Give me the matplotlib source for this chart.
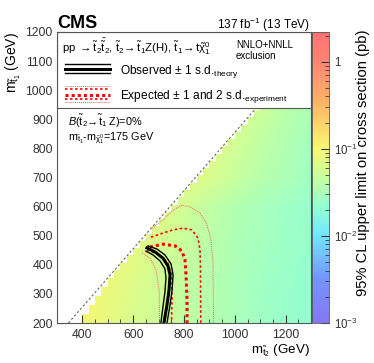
import numpy as np
import matplotlib
matplotlib.use('Agg')
import matplotlib.pyplot as plt
from matplotlib.colors import LinearSegmentedColormap, LogNorm
from matplotlib.patches import Rectangle, Polygon
from matplotlib.ticker import MultipleLocator, FixedLocator, NullFormatter

plt.rcParams['font.family'] = ['Liberation Sans', 'DejaVu Sans']
plt.rcParams['mathtext.fontset'] = 'custom'
plt.rcParams['mathtext.rm'] = 'Liberation Sans'
plt.rcParams['mathtext.it'] = 'Liberation Sans:italic'
plt.rcParams['mathtext.bf'] = 'Liberation Sans:bold'
plt.rcParams['mathtext.default'] = 'regular'

# upper limit map (pb), rows = m_t1, cols = m_t2
mt2_grid = [400, 500, 600, 700, 800, 900, 1000, 1100, 1200, 1300]
mt1_grid = [200, 300, 400, 500, 600, 700, 800, 900, 1000, 1100, 1200]
limit = [
    [0.100, 0.080, 0.063, 0.052, 0.043, 0.036, 0.031, 0.027, 0.024, 0.022],
    [0.100, 0.085, 0.066, 0.053, 0.044, 0.037, 0.031, 0.027, 0.024, 0.022],
    [0.090, 0.090, 0.072, 0.056, 0.046, 0.038, 0.032, 0.028, 0.025, 0.022],
    [0.080, 0.080, 0.080, 0.062, 0.049, 0.040, 0.033, 0.029, 0.025, 0.023],
    [0.080, 0.080, 0.080, 0.070, 0.055, 0.043, 0.035, 0.030, 0.026, 0.023],
    [0.080, 0.080, 0.080, 0.080, 0.075, 0.062, 0.048, 0.038, 0.032, 0.027],
    [0.080, 0.080, 0.080, 0.080, 0.080, 0.070, 0.055, 0.042, 0.034, 0.028],
    [0.080, 0.080, 0.080, 0.080, 0.080, 0.080, 0.065, 0.048, 0.037, 0.030],
    [0.080, 0.080, 0.080, 0.080, 0.080, 0.080, 0.070, 0.060, 0.042, 0.032],
    [0.080, 0.080, 0.080, 0.080, 0.080, 0.080, 0.070, 0.065, 0.050, 0.036],
    [0.080, 0.080, 0.080, 0.080, 0.080, 0.080, 0.070, 0.065, 0.060, 0.042],
]

# exclusion contours (m_t2, m_t1) in GeV
obs_x = [654, 686, 717, 737, 745, 741, 733, 721]
obs_y = [458, 444, 423, 396, 365, 313, 262, 200]
obs_up_x = [658, 694, 725, 749, 757, 753, 745, 733]
obs_up_y = [465, 454, 434, 403, 365, 313, 262, 200]
obs_dn_x = [650, 678, 706, 725, 729, 725, 717, 709]
obs_dn_y = [447, 434, 413, 386, 355, 307, 255, 200]

exp_x = [666, 717, 765, 792, 804, 808, 812, 812]
exp_y = [461, 471, 465, 447, 416, 365, 279, 200]
exp_m1_x = [654, 706, 737, 749, 753, 751]
exp_m1_y = [451, 434, 406, 372, 313, 200]
exp_p1_x = [670, 717, 757, 796, 831, 855, 863, 865, 866]
exp_p1_y = [495, 509, 520, 526, 520, 492, 451, 382, 200]
exp_p2_x = [674, 717, 757, 792, 824, 863, 891, 906, 914, 916]
exp_p2_y = [526, 554, 588, 605, 599, 578, 537, 485, 416, 200]
exp_m2_x = [635, 666, 690, 702, 704]
exp_m2_y = [441, 423, 382, 313, 200]

# kinematic diagonal
diag_x = [345, 1345]
diag_y = [200, 1200]

colors = [(0.00, (0.52, 0.47, 0.95)),
          (0.15, (0.45, 0.58, 1.00)),
          (0.30, (0.45, 0.90, 1.00)),
          (0.40, (0.58, 1.00, 0.82)),
          (0.50, (0.78, 1.00, 0.62)),
          (0.60, (0.97, 0.97, 0.45)),
          (0.75, (1.00, 0.72, 0.40)),
          (0.90, (1.00, 0.52, 0.45)),
          (1.00, (1.00, 0.45, 0.45))]
cmap = LinearSegmentedColormap.from_list('pastel', colors)
norm = LogNorm(1e-3, 2.2)

fig = plt.figure(figsize=(3.74, 3.63), dpi=100)
ax = fig.add_axes([57/374, 1-323/363, 254/374, 291/363])
cax = fig.add_axes([312/374, 1-323/363, 17/374, 291/363])

X, Y = np.meshgrid(mt2_grid, mt1_grid)
mesh = ax.pcolormesh(X, Y, np.array(limit), cmap=cmap, norm=norm, shading='gouraud', zorder=1)

# white staircase above the allowed region
step = 25
verts = [(300, 200), (400, 200)]
c = 400
while c < 1300:
    top = min(200 + (c + step - 400) * 1.25, c - 143)
    verts += [(c, top), (c + step, top)]
    c += step
verts += [(1300, 1200), (300, 1200)]
ax.add_patch(Polygon(verts, closed=True, facecolor='white', edgecolor='none', zorder=2))

ax.plot(diag_x, diag_y, color='#666666', lw=0.8, ls=(0, (2, 2)), zorder=3)

red = '#ff0000'
ax.plot(exp_m2_x, exp_m2_y, color='#f06060', lw=0.7, ls=(0, (1, 1)), zorder=4)
ax.plot(exp_p2_x, exp_p2_y, color='#f06060', lw=0.7, ls=(0, (1, 1)), zorder=4)
ax.plot(exp_m1_x, exp_m1_y, color=red, lw=1.2, ls=(0, (1.5, 1.5)), zorder=4)
ax.plot(exp_p1_x, exp_p1_y, color=red, lw=1.2, ls=(0, (1.5, 1.5)), zorder=4)
ax.plot(exp_x, exp_y, color=red, lw=2.2, ls=(0, (1, 1)), zorder=4)
ax.plot(obs_up_x, obs_up_y, color='black', lw=1.0, zorder=5)
ax.plot(obs_dn_x, obs_dn_y, color='black', lw=1.0, zorder=5)
ax.plot(obs_x, obs_y, color='black', lw=2.2, zorder=5)

ax.set_xlim(300, 1300)
ax.set_ylim(200, 1200)
ax.xaxis.set_major_locator(MultipleLocator(200))
ax.xaxis.set_minor_locator(MultipleLocator(50))
ax.yaxis.set_major_locator(MultipleLocator(100))
ax.yaxis.set_minor_locator(MultipleLocator(20))
ax.tick_params(which='both', direction='in', top=False, right=False, labelsize=8.7, colors='#333333')
ax.tick_params(which='major', length=6)
ax.tick_params(which='minor', length=3)
ax.tick_params(axis='x', pad=4.5)
ax.tick_params(axis='y', pad=3)
for s in ax.spines.values():
    s.set_color('#555555')
    s.set_linewidth(0.8)
    s.set_zorder(10)

# legend box
ax.add_patch(Rectangle((0, 0.739), 1, 0.261, transform=ax.transAxes, facecolor='white',
                       edgecolor='#555555', lw=0.8, zorder=8))
ax.text(0.02, 0.948, r'pp $\rightarrow \tilde{t}_2\bar{\tilde{t}}_2$, $\tilde{t}_2\!\rightarrow \tilde{t}_1$Z(H), $\tilde{t}_1\!\rightarrow t\tilde{\chi}^0_1$',
        transform=ax.transAxes, fontsize=8.2, va='center', ha='left', zorder=9)
ax.text(0.705, 0.955, 'NNLO+NNLL', transform=ax.transAxes, fontsize=7, va='center', zorder=9)
ax.text(0.705, 0.918, 'exclusion', transform=ax.transAxes, fontsize=7, va='center', zorder=9)

lx = [0.031, 0.209]
ax.plot(lx, [0.890, 0.890], color='black', lw=1.0, transform=ax.transAxes, zorder=9)
ax.plot(lx, [0.873, 0.873], color='black', lw=2.2, transform=ax.transAxes, zorder=9)
ax.plot(lx, [0.860, 0.860], color='black', lw=1.0, transform=ax.transAxes, zorder=9)
ax.text(0.248, 0.865, r'Observed $\pm$ 1 s.d.$_{\mathregular{theory}}$', transform=ax.transAxes,
        fontsize=8.6, va='center', zorder=9)
ax.plot(lx, [0.816, 0.816], color='#f06060', lw=0.7, ls=(0, (1, 1)), transform=ax.transAxes, zorder=9)
ax.plot(lx, [0.805, 0.805], color=red, lw=1.2, ls=(0, (1.5, 1.5)), transform=ax.transAxes, zorder=9)
ax.plot(lx, [0.783, 0.783], color=red, lw=2.2, ls=(0, (1, 1)), transform=ax.transAxes, zorder=9)
ax.plot(lx, [0.770, 0.770], color=red, lw=1.2, ls=(0, (1.5, 1.5)), transform=ax.transAxes, zorder=9)
ax.plot(lx, [0.759, 0.759], color='#f06060', lw=0.7, ls=(0, (1, 1)), transform=ax.transAxes, zorder=9)
ax.text(0.248, 0.780, r'Expected $\pm$ 1 and 2 s.d.$_{\mathregular{experiment}}$', transform=ax.transAxes,
        fontsize=8.6, va='center', zorder=9)

ax.text(0.043, 0.691, r'$\mathit{B}$($\tilde{t}_2\!\rightarrow\!\tilde{t}_1$ Z)=0%', transform=ax.transAxes,
        fontsize=7.8, va='center', zorder=9)
ax.text(0.043, 0.636, r'$m_{\tilde{t}_1}$-$m_{\tilde{\chi}^0_1}$=175 GeV', transform=ax.transAxes,
        fontsize=7.8, va='center', zorder=9)

fig.text(57/374, 1-28.5/363, 'CMS', fontsize=13, fontweight='bold', va='baseline', ha='left')
fig.text(310/374, 1-28.5/363, r'137 fb$^{-1}$ (13 TeV)', fontsize=8.5, va='baseline', ha='right')

ax.set_ylabel(r'$m_{\tilde{t}_1}$ (GeV)', fontsize=10, loc='top', labelpad=2)
fig.text(310/374, 1-353/363, r'$m_{\tilde{t}_2}$ (GeV)', fontsize=9.6, ha='right', va='baseline')

cb = fig.colorbar(mesh, cax=cax)
cb.outline.set_edgecolor('#555555')
cb.outline.set_linewidth(0.6)
cax.yaxis.set_major_locator(FixedLocator([1e-3, 1e-2, 1e-1, 1]))
cax.set_yticklabels([r'$10^{-3}$', r'$10^{-2}$', r'$10^{-1}$', '1'])
minor = [m * d for d in [1e-3, 1e-2, 1e-1, 1] for m in range(2, 10) if m * d < 2.2]
cax.yaxis.set_minor_locator(FixedLocator(minor))
cax.yaxis.set_minor_formatter(NullFormatter())
cax.tick_params(which='both', direction='in', labelsize=8.3, colors='#333333', pad=3.5)
cax.tick_params(which='major', length=6)
cax.tick_params(which='minor', length=3)
fig.text(363/374, 1-30/363, '95% CL upper limit on cross section (pb)', fontsize=10.6,
         rotation=90, ha='center', va='top')

fig.savefig('out.png', dpi=100)
